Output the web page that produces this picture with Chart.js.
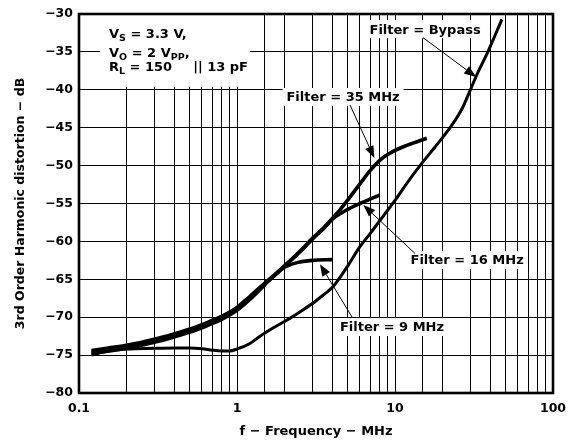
<!DOCTYPE html>
<html>
<head>
<meta charset="utf-8">
<script src="https://cdn.jsdelivr.net/npm/chart.js@4/dist/chart.umd.min.js"></script>
<style>
  html, body { margin: 0; padding: 0; background: #fff; }
  canvas { display: block; }
</style>
</head>
<body>
<canvas id="thd" width="580" height="445"></canvas>
<script>
// 3rd order harmonic distortion vs frequency, one curve per filter setting
const freqBypass = [0.12, 0.15, 0.2, 0.3, 0.4, 0.5, 0.6, 0.7, 0.8, 0.9, 1, 1.2, 1.4, 1.7, 2.1, 2.5, 3, 3.5, 4, 4.5, 5, 6, 7, 8.4, 10, 12, 14.4, 18, 22.3, 26.4, 30, 33, 38.7, 43, 47.5];
const thdBypass  = [-75.0, -74.5, -74.2, -74.1, -74.05, -74.05, -74.15, -74.35, -74.45, -74.45, -74.2, -73.5, -72.5, -71.4, -70.3, -69.3, -68.2, -67.1, -66.1, -64.7, -63.3, -60.7, -58.9, -56.7, -54.6, -52.2, -50.0, -47.5, -45.0, -42.6, -40.0, -38.0, -35.0, -32.8, -30.7];

const freq35 = [0.12, 0.15, 0.2, 0.3, 0.4, 0.5, 0.6, 0.7, 0.8, 1, 1.2, 1.5, 1.8, 2, 2.5, 3, 3.5, 4, 4.5, 5, 6, 7, 8, 10, 12, 15.9];
const thd35  = [-74.4, -74.1, -73.7, -72.9, -72.2, -71.6, -71.0, -70.4, -69.9, -68.7, -67.3, -65.5, -64.1, -63.2, -61.3, -59.6, -58.3, -57.0, -55.8, -54.6, -52.4, -50.6, -49.3, -48.0, -47.3, -46.4];

const freq16 = [0.12, 0.15, 0.2, 0.3, 0.4, 0.5, 0.6, 0.7, 0.8, 1, 1.2, 1.5, 1.8, 2, 2.5, 3, 3.5, 4, 5, 6, 7, 8];
const thd16  = [-74.6, -74.3, -73.9, -73.1, -72.4, -71.8, -71.2, -70.6, -70.1, -68.9, -67.5, -65.6, -64.2, -63.3, -61.4, -59.7, -58.4, -57.1, -55.8, -55.0, -54.4, -53.9];

const freq9 = [0.12, 0.15, 0.2, 0.3, 0.4, 0.5, 0.6, 0.7, 0.8, 1, 1.2, 1.5, 1.8, 2, 2.4, 3, 4];
const thd9  = [-74.8, -74.5, -74.1, -73.3, -72.6, -72.0, -71.4, -70.8, -70.3, -69.1, -67.7, -65.7, -64.1, -63.4, -62.8, -62.5, -62.4];

const freqLabels = [0.1, 1, 10, 100];
const thdMin = -80, thdMax = -30, thdStep = 5;

// callout text, label centre, arrow tail and arrow head (in data units)
const callouts = [
  { text: 'Filter = Bypass', label: [15.5, -32.0],  tail: [15.0, -33.1], head: [32.6, -38.3] },
  { text: 'Filter = 35 MHz', label: [4.69, -40.95], tail: [5.19, -42.0], head: [7.4, -49.0] },
  { text: 'Filter = 16 MHz', label: [28.6, -62.45], tail: [13.4, -61.6], head: [6.3, -55.2] },
  { text: 'Filter = 9 MHz',  label: [9.57, -71.3],  tail: [5.35, -70.0], head: [3.35, -63.0] }
];

const FONT = '"DejaVu Sans", "Liberation Sans", Arial, sans-serif';

function toPoints(xs, ys) {
  return xs.map((x, i) => ({ x: x, y: ys[i] }));
}

function curve(label, xs, ys, width) {
  return {
    label: label,
    data: toPoints(xs, ys),
    borderColor: '#000',
    borderWidth: width,
    pointRadius: 0,
    cubicInterpolationMode: 'monotone',
    fill: false
  };
}

// draws a run of text pieces, some as subscripts
function drawRich(ctx, parts, x, y) {
  parts.forEach(p => {
    if (p.gap) { x += p.gap; return; }
    ctx.font = p.sub ? 'bold 9.5px ' + FONT : 'bold 13px ' + FONT;
    ctx.fillText(p.t, x, p.sub ? y + 2.5 : y);
    x += ctx.measureText(p.t).width;
  });
}

const calloutPlugin = {
  id: 'callouts',
  beforeDraw(chart) {
    const ctx = chart.ctx;
    ctx.save();
    ctx.fillStyle = '#fff';
    ctx.fillRect(0, 0, chart.width, chart.height);
    ctx.restore();
  },
  beforeDatasetsDraw(chart) {
    const { ctx, chartArea: a, scales: { x, y } } = chart;
    ctx.save();
    ctx.fillStyle = '#fff';
    // backing for the test conditions block
    ctx.fillRect(a.left + 21, a.top, 150, 73);
    ctx.font = 'bold 13px ' + FONT;
    callouts.forEach(c => {
      const w = ctx.measureText(c.text).width;
      const cx = x.getPixelForValue(c.label[0]);
      const cy = y.getPixelForValue(c.label[1]);
      ctx.fillRect(cx - w / 2 - 4, cy - 9, w + 8, 18);
    });
    ctx.restore();
  },
  afterDatasetsDraw(chart) {
    const { ctx, chartArea: a, scales: { x, y } } = chart;
    ctx.save();
    ctx.fillStyle = '#000';
    ctx.strokeStyle = '#000';
    ctx.textBaseline = 'alphabetic';
    ctx.textAlign = 'left';

    const left = a.left + 30;
    drawRich(ctx, [{ t: 'V' }, { t: 'S', sub: 1 }, { t: ' = 3.3 V,' }], left, a.top + 24);
    drawRich(ctx, [{ t: 'V' }, { t: 'O', sub: 1 }, { t: ' = 2 V' }, { t: 'PP', sub: 1 }, { t: ',' }], left, a.top + 43);
    drawRich(ctx, [{ t: 'R' }, { t: 'L', sub: 1 }, { t: ' = 150' }, { gap: 21 }, { t: '|| 13 pF' }], left, a.top + 57);

    ctx.font = 'bold 13px ' + FONT;
    ctx.textAlign = 'center';
    ctx.textBaseline = 'middle';
    callouts.forEach(c => {
      ctx.fillText(c.text, x.getPixelForValue(c.label[0]), y.getPixelForValue(c.label[1]) + 1);

      const x0 = x.getPixelForValue(c.tail[0]), y0 = y.getPixelForValue(c.tail[1]);
      const x1 = x.getPixelForValue(c.head[0]), y1 = y.getPixelForValue(c.head[1]);
      const ang = Math.atan2(y1 - y0, x1 - x0);
      const len = 12, half = 4.5;
      const bx = x1 - len * Math.cos(ang), by = y1 - len * Math.sin(ang);

      ctx.lineWidth = 1;
      ctx.beginPath();
      ctx.moveTo(x0, y0);
      ctx.lineTo(bx, by);
      ctx.stroke();

      ctx.beginPath();
      ctx.moveTo(x1, y1);
      ctx.lineTo(bx + half * Math.sin(ang), by - half * Math.cos(ang));
      ctx.lineTo(bx - half * Math.sin(ang), by + half * Math.cos(ang));
      ctx.closePath();
      ctx.fill();
    });
    ctx.restore();
  },
  afterDraw(chart) {
    const { ctx, chartArea: a } = chart;
    ctx.save();
    ctx.strokeStyle = '#000';
    ctx.lineWidth = 2.6;
    ctx.strokeRect(a.left, a.top, a.right - a.left, a.bottom - a.top);
    ctx.restore();
  }
};

new Chart(document.getElementById('thd'), {
  type: 'line',
  data: {
    datasets: [
      curve('Filter = Bypass', freqBypass, thdBypass, 3),
      curve('Filter = 35 MHz', freq35, thd35, 3.6),
      curve('Filter = 16 MHz', freq16, thd16, 3.6),
      curve('Filter = 9 MHz', freq9, thd9, 3.6)
    ]
  },
  options: {
    responsive: false,
    devicePixelRatio: 1,
    animation: false,
    layout: { padding: { top: 14, right: 27, left: 0, bottom: 0 } },
    plugins: {
      legend: { display: false },
      tooltip: { enabled: false }
    },
    scales: {
      x: {
        type: 'logarithmic',
        min: 0.1,
        max: 100,
        afterFit: s => { s.height = 52; },
        grid: { color: '#000', lineWidth: 1, drawTicks: false },
        border: { display: false },
        ticks: {
          autoSkip: false,
          maxRotation: 0,
          padding: 8,
          color: '#000',
          font: { family: FONT, size: 12.5, weight: 'bold' },
          callback: v => freqLabels.some(d => Math.abs(d - v) < 1e-9) ? String(v) : ''
        },
        title: {
          display: true,
          text: 'f \u2212 Frequency \u2212 MHz',
          color: '#000',
          font: { family: FONT, size: 13, weight: 'bold' },
          padding: { top: 0, bottom: 6 }
        }
      },
      y: {
        min: thdMin,
        max: thdMax,
        afterFit: s => { s.width = 79; },
        grid: { color: '#000', lineWidth: 1, drawTicks: false },
        border: { display: false },
        ticks: {
          stepSize: thdStep,
          padding: 6,
          color: '#000',
          font: { family: FONT, size: 12.5, weight: 'bold' },
          callback: v => String(v).replace('-', '\u2212')
        },
        title: {
          display: true,
          text: '3rd Order Harmonic distortion \u2212 dB',
          color: '#000',
          font: { family: FONT, size: 12.5, weight: 'bold' },
          padding: { top: 13, bottom: 0 }
        }
      }
    }
  },
  plugins: [calloutPlugin]
});
</script>
</body>
</html>
